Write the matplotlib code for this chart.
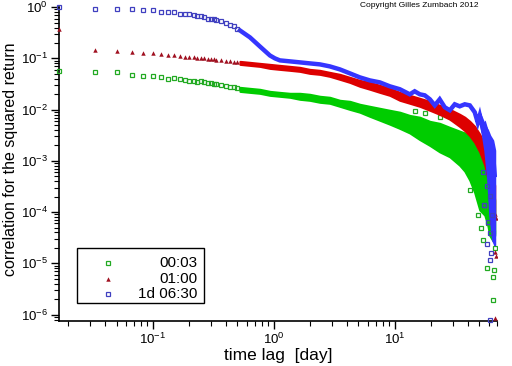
"""
Correlation of the squared return vs time lag, three sampling intervals.
Output: out.png
"""

import matplotlib
matplotlib.use("Agg")
import matplotlib.pyplot as plt
from matplotlib.patches import Rectangle
from matplotlib.ticker import LogLocator, NullFormatter

plt.rcParams.update({
    "font.family": "Liberation Sans",
    "mathtext.fontset": "custom",
    "mathtext.rm": "Liberation Sans",
    "mathtext.it": "Liberation Sans",
    "mathtext.bf": "Liberation Sans",
    "mathtext.default": "regular",
})

# -- Data --
# first lags, drawn as single markers
LAG_SPARSE = [0.0167, 0.0333, 0.05, 0.0667, 0.0833, 0.1, 0.1167, 0.1333, 0.15,
              0.1667, 0.1833, 0.2, 0.2167, 0.2333, 0.25, 0.2667, 0.2833, 0.3,
              0.3167, 0.3333, 0.3667, 0.4, 0.4333, 0.4667, 0.5]
GREEN_SPARSE = [0.0558, 0.0533, 0.0533, 0.0466, 0.0446, 0.0446, 0.0426, 0.0390,
                0.0407, 0.0390, 0.0372, 0.0356, 0.0356, 0.0340, 0.0356, 0.0340,
                0.0325, 0.0325, 0.0311, 0.0311, 0.0298, 0.0285, 0.0272, 0.0272,
                0.0260]
RED_SPARSE = [0.38, 0.143, 0.137, 0.131, 0.125, 0.125, 0.120, 0.114, 0.114,
              0.109, 0.105, 0.105, 0.105, 0.100, 0.100, 0.100, 0.0956, 0.0956,
              0.0956, 0.0914, 0.0914, 0.0874, 0.0874, 0.0836, 0.0836]
BLUE_SPARSE = [0.99, 0.94, 0.94, 0.90, 0.86, 0.86, 0.82, 0.79, 0.79, 0.75, 0.72,
               0.72, 0.69, 0.66, 0.66, 0.63, 0.60, 0.60, 0.58, 0.55, 0.53, 0.48,
               0.44, 0.42, 0.38]

# dense part: upper / lower edge of the cloud of points
DENSE_LAG = [0.524, 0.634, 0.766, 0.927, 1.12, 1.36, 1.64, 1.98, 2.40, 2.90,
             3.51, 4.25, 5.14, 6.21, 7.52, 9.09, 11.0, 13.3, 16.1, 19.5, 23.5,
             28.5, 34.4, 37.9, 41.7, 45.8, 50.4, 55.5, 58.7, 61.0, 64.5, 67.0]
GREEN_HI = [0.0272, 0.0260, 0.0249, 0.0227, 0.0217, 0.0208, 0.0208, 0.0199,
            0.0182, 0.0174, 0.0152, 0.0145, 0.0127, 0.0116, 0.0106, 0.0097,
            0.0089, 0.0077, 0.0071, 0.0059, 0.0054, 0.0045, 0.0038, 0.0035,
            0.0030, 0.0025, 0.0019, 0.00135, 0.0011, 0.00082, 0.00042, 0.00017]
GREEN_LO = [0.0227, 0.0217, 0.0208, 0.0190, 0.0182, 0.0174, 0.0159, 0.0152,
            0.0139, 0.0133, 0.0116, 0.0101, 0.0089, 0.0074, 0.0062, 0.0052,
            0.0043, 0.0035, 0.0026, 0.0020, 0.0015, 0.0012, 0.00082, 0.00063,
            0.00042, 0.00024, 0.00011, 8.7e-5, 5.6e-5, 3.5e-5, 2.8e-5, 3.5e-5]
RED_HI = [0.0874, 0.0836, 0.0799, 0.0764, 0.0730, 0.0698, 0.0668, 0.0610,
          0.0584, 0.0533, 0.0488, 0.0426, 0.0372, 0.0340, 0.0298, 0.0260,
          0.0217, 0.0190, 0.0166, 0.0145, 0.0121, 0.0101, 0.0081, 0.0071,
          0.0059, 0.0047, 0.0033, 0.0021, 0.0015, 0.00103, 0.00060, 0.00033]
RED_LO = [0.0764, 0.0730, 0.0698, 0.0638, 0.0610, 0.0584, 0.0558, 0.0510,
          0.0488, 0.0446, 0.0390, 0.0340, 0.0285, 0.0250, 0.0217, 0.0190,
          0.0152, 0.0133, 0.0116, 0.0097, 0.0081, 0.0065, 0.0047, 0.0039,
          0.0031, 0.0023, 0.0015, 0.00082, 0.00046, 0.00027, 0.00014, 8.7e-5]

# blue looks like a thick zigzag line
BLUE_LAG = [0.524, 0.634, 0.766, 0.927, 1.02, 1.12, 1.36, 1.64, 1.98, 2.40,
            2.90, 3.51, 4.25, 5.14, 6.21, 7.52, 9.09, 11.0, 13.3, 14.6, 16.1,
            17.7, 19.5, 21.4, 23.5, 25.9, 28.5, 31.3, 34.4, 37.9, 41.7, 45.8,
            48.5, 50.4, 53.3, 55.5, 58.7, 61.0, 64.5, 67.0]
BLUE_VAL = [0.351, 0.257, 0.171, 0.114, 0.100, 0.0914, 0.0874, 0.0836, 0.0799,
            0.0764, 0.0698, 0.0610, 0.0510, 0.0426, 0.0372, 0.0340, 0.0285,
            0.0250, 0.0199, 0.0228, 0.0199, 0.0190, 0.0159, 0.0121, 0.0159,
            0.0111, 0.0097, 0.0127, 0.0116, 0.0127, 0.0121, 0.0089, 0.0056,
            0.0077, 0.0043, 0.0049, 0.0031, 0.0025, 0.0016, 0.00053]
BLUE_END_LAG = [50.4, 55.5, 58.7, 61.0, 64.5, 67.0]
BLUE_END_HI = [0.0085, 0.0049, 0.0039, 0.0031, 0.0025, 0.0016]
BLUE_END_LO = [0.0068, 0.0016, 0.00042, 8.7e-5, 2.8e-5, 2.3e-5]

# isolated points outside the clouds
GREEN_OUT_LAG = [14.6, 17.7, 23.5, 29.6, 35.8, 41.7, 48.5, 51.4, 53.3, 55.5,
                 58.7, 64.5, 67.0, 57.6, 65.8, 64.5, 64.5]
GREEN_OUT_VAL = [0.0094, 0.0085, 0.0071, 0.0068, 0.0052, 0.00027, 8.7e-5,
                 4.9e-5, 2.8e-5, 1.3e-4, 6.1e-5, 4.1e-5, 2.0e-5, 8.2e-6,
                 7.5e-6, 5.4e-6, 1.9e-6]
BLUE_OUT_LAG = [53.3, 57.6, 61.0, 54.4, 63.4, 58.7, 61.0, 57.6, 62.1, 61.0, 61.0]
BLUE_OUT_VAL = [6.0e-4, 3.3e-4, 2.1e-4, 1.4e-4, 8.7e-5, 6.4e-5, 3.9e-5, 2.4e-5,
                1.6e-5, 1.15e-5, 7.9e-7]
RED_OUT_LAG = [67.0, 68.4, 67.0, 68.4, 67.0]
RED_OUT_VAL = [9.1e-5, 7.7e-5, 1.7e-5, 1.4e-5, 8.6e-7]

LABELS = ["00:03", "01:00", "1d 06:30"]

GREEN = "#00cc00"
GREEN_M = "#22aa22"
RED = "#dd0000"
RED_M = "#a01020"
BLUE = "#3535ff"
BLUE_M = "#4040c0"

# -- Figure --
fig = plt.figure(figsize=(5.12, 3.66), dpi=100)
ax = fig.add_axes([0.1152, 0.123, 0.8555, 0.8587])
ax.set_xscale("log")
ax.set_yscale("log")

# green
ax.fill_between(DENSE_LAG, GREEN_LO, GREEN_HI, color=GREEN, lw=1.5, zorder=2)
ax.plot(LAG_SPARSE, GREEN_SPARSE, "s", ms=3, mfc="none", mec=GREEN_M, mew=0.9,
        clip_on=False, zorder=3)
ax.plot(GREEN_OUT_LAG, GREEN_OUT_VAL, "s", ms=3, mfc="none", mec=GREEN_M,
        mew=0.9, zorder=3)

# red
ax.fill_between(DENSE_LAG, RED_LO, RED_HI, color=RED, lw=1.5, zorder=4)
ax.plot(LAG_SPARSE, RED_SPARSE, "^", ms=3.2, color=RED_M, mew=0,
        clip_on=False, zorder=5)
ax.plot(RED_OUT_LAG, RED_OUT_VAL, "^", ms=3.2, color=RED_M, mew=0, zorder=5)

# blue
ax.plot(BLUE_LAG, BLUE_VAL, "-", lw=3.2, color=BLUE, solid_joinstyle="miter",
        zorder=6)
ax.fill_between(BLUE_END_LAG, BLUE_END_LO, BLUE_END_HI, color=BLUE, lw=1.5,
                zorder=6)
ax.plot(LAG_SPARSE, BLUE_SPARSE, "s", ms=3, mfc="none", mec=BLUE_M, mew=0.9,
        clip_on=False, zorder=7)
ax.plot(BLUE_OUT_LAG, BLUE_OUT_VAL, "s", ms=3, mfc="none", mec=BLUE_M,
        mew=0.9, clip_on=False, zorder=7)

ax.set_xlim(0.0167, 70)
ax.set_ylim(7.5e-7, 1.02)

for side in ["top", "right"]:
    ax.spines[side].set_visible(False)
ax.spines["left"].set_linewidth(1.2)
ax.spines["bottom"].set_linewidth(1.2)

ax.xaxis.set_major_locator(LogLocator(base=10, numticks=20))
ax.xaxis.set_minor_locator(LogLocator(base=10, subs=range(2, 10), numticks=20))
ax.yaxis.set_major_locator(LogLocator(base=10, numticks=20))
ax.yaxis.set_minor_locator(LogLocator(base=10, subs=range(2, 10), numticks=20))
ax.xaxis.set_minor_formatter(NullFormatter())
ax.yaxis.set_minor_formatter(NullFormatter())
ax.tick_params(which="major", direction="out", length=6, width=1,
               labelsize=9.5, pad=2)
ax.tick_params(which="minor", direction="out", length=3.5, width=0.8)

ax.set_xlabel("time lag  [day]", fontsize=12.5)
ax.set_ylabel("correlation for the squared return", fontsize=11.5)
ax.xaxis.set_label_coords(0.5, -0.11)
ax.yaxis.set_label_coords(-0.11, 0.515)
ax.xaxis.label.set_va("center")
ax.yaxis.label.set_va("center")

fig.text(0.818, 0.986, "Copyright Gilles Zumbach 2012", fontsize=6,
         ha="center", va="center")

# legend box drawn by hand (labels are right aligned)
ax.add_patch(Rectangle((0.041, 0.057), 0.29, 0.175, transform=ax.transAxes,
                       facecolor="white", edgecolor="black", lw=1,
                       clip_on=False, zorder=10))
rows = [0.185, 0.134, 0.086]
styles = [
    dict(marker="s", ms=3, mfc="none", mec=GREEN_M, mew=0.9),
    dict(marker="^", ms=3.2, color=RED_M, mew=0),
    dict(marker="s", ms=3, mfc="none", mec=BLUE_M, mew=0.9),
]
for y, lab, st in zip(rows, LABELS, styles):
    ax.plot([0.112], [y], linestyle="none", transform=ax.transAxes,
            clip_on=False, zorder=11, **st)
    ax.text(0.317, y, lab, ha="right", va="center", fontsize=11,
            transform=ax.transAxes, zorder=11)

fig.savefig("out.png", dpi=100)
